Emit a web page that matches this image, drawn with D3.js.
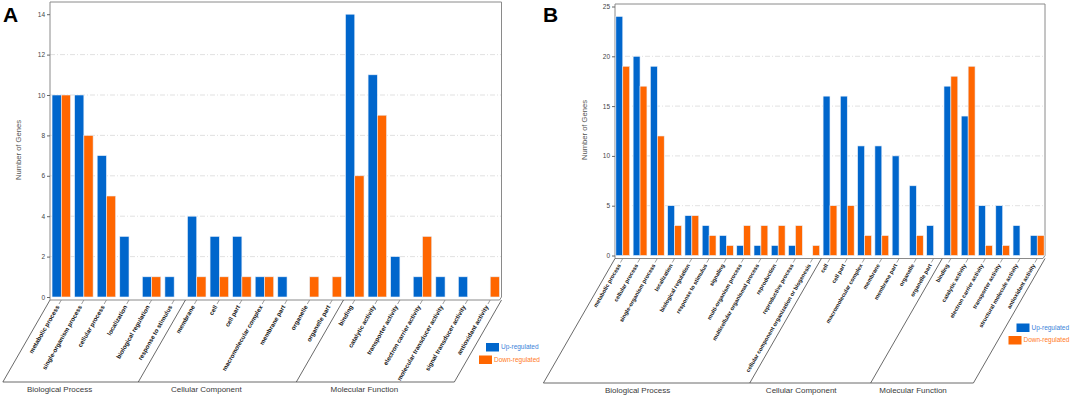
<!DOCTYPE html>
<html><head><meta charset="utf-8">
<script src="https://cdn.jsdelivr.net/npm/d3@7"></script>
<style>
html,body{margin:0;padding:0;background:#fff;}
svg{display:block;font-family:"Liberation Sans",Arial,sans-serif;}
</style></head>
<body><svg id="c" width="1072" height="396"></svg>
<script>
// ---------- DATA ----------
const catsA = ["metabolic process","single-organism process","cellular process","localization","biological regulation","response to stimulus",
  "membrane","cell","cell part","macromolecular complex","membrane part","organelle","organelle part",
  "binding","catalytic activity","transporter activity","electron carrier activity","molecular transducer activity","signal transducer activity","antioxidant activity"];
const upA   = [10,10,7,3,1,1, 4,3,3,1,1,0,0, 14,11,2,1,1,1,0];
const downA = [10,8,5,0,1,0, 1,1,1,1,0,1,1, 6,9,0,3,0,0,1];
const groupNamesA = ["Biological Process","Cellular Component","Molecular Function"];
const groupSizesA = [6,7,7];
const yTicksA = [0,2,4,6,8,10,12,14];

const catsB = ["metabolic process","cellular process","single-organism process","localization","biological regulation","response to stimulus","signaling","multi-organism process","multicellular organismal process","reproduction","reproductive process","cellular component organization or biogenesis",
  "cell","cell part","macromolecular complex","membrane","membrane part","organelle","organelle part",
  "binding","catalytic activity","electron carrier activity","transporter activity","structural molecule activity","antioxidant activity"];
const upB   = [24,20,19,5,4,3,2,1,1,1,1,0, 16,16,11,11,10,7,3, 17,14,5,5,3,2];
const downB = [19,17,12,3,4,2,1,3,3,3,3,1, 5,5,2,2,0,2,0, 18,19,1,1,0,2];
const groupNamesB = ["Biological Process","Cellular Component","Molecular Function"];
const groupSizesB = [12,7,6];
const yTicksB = [0,5,10,15,20,25];

const seriesNames = ["Up-regulated","Down-regulated"];
const seriesColors = ["#0066CC","#FF6600"];
const legendTextColors = ["#3a82d9","#ff7a26"];

// ---------- DRAW ----------
const svg = d3.select("#c");

function drawPanel(o){
  const g = svg.append("g");
  const x = d3.scaleBand().domain(o.cats).range([o.left,o.right]).paddingInner(o.pin).paddingOuter(o.pout);
  const xs = d3.scaleBand().domain([0,1]).range([0,x.bandwidth()]);
  const y = d3.scaleLinear().domain([0,o.ymax]).range([o.zero,o.ymaxY]);
  const axisY = o.zero + 3;

  // gridlines
  g.append("g").selectAll("line").data(o.ticks.filter(t=>t>0 && t<o.ymax)).join("line")
    .attr("x1",o.left).attr("x2",o.right).attr("y1",d=>y(d)).attr("y2",d=>y(d))
    .attr("stroke","#d9d9d9").attr("stroke-width",0.8).attr("stroke-dasharray","5,2,1,2");

  // frame
  g.append("path").attr("d",`M${o.left},${axisY}V${o.top}H${o.right}V${o.zero}L${o.right-2},${axisY}H${o.left}`)
    .attr("fill","none").attr("stroke","#8a8a8a").attr("stroke-width",1);

  // y axis
  const ya = g.append("g").attr("transform",`translate(${o.left},0)`)
    .call(d3.axisLeft(y).tickValues(o.ticks).tickSize(3).tickPadding(2));
  ya.select(".domain").remove();
  ya.selectAll("line").attr("stroke","#666");
  ya.selectAll("text").attr("font-size",6.5).attr("fill","#444").attr("font-family","Liberation Sans, Arial, sans-serif");

  // y title
  g.append("text").attr("transform",`translate(${o.titleX},${o.titleY}) rotate(-90)`)
    .attr("text-anchor","middle").attr("font-size",7.6).attr("fill","#555").text("Number of Genes");

  // bars
  const rows = o.cats.map((c,i)=>({c, v:[o.up[i],o.down[i]]}));
  const gg = g.append("g").selectAll("g").data(rows).join("g").attr("transform",d=>`translate(${x(d.c)},0)`);
  gg.selectAll("rect").data(d=>d.v.map((v,k)=>({v,k}))).join("rect")
    .filter(d=>d.v>0)
    .attr("x",d=>xs(d.k)).attr("width",xs.bandwidth())
    .attr("y",d=>y(d.v)).attr("height",d=>y(0)-y(d.v))
    .attr("fill",d=>seriesColors[d.k]).attr("stroke","#e8f0fa").attr("stroke-width",0.6);

  // x ticks and labels
  const dx = o.slope;
  g.append("g").selectAll("line").data(o.cats).join("line")
    .attr("x1",d=>x(d)+x.bandwidth()/2).attr("y1",axisY)
    .attr("x2",d=>x(d)+x.bandwidth()/2-2.3).attr("y2",axisY+4)
    .attr("stroke","#777").attr("stroke-width",0.7);
  g.append("g").selectAll("text").data(o.cats).join("text")
    .attr("transform",d=>`translate(${x(d)+x.bandwidth()/2-3},${axisY+6}) rotate(-60)`)
    .attr("text-anchor","end").attr("dominant-baseline","middle")
    .attr("font-size",o.labelSize).attr("font-weight","bold").attr("fill","#111").text(d=>d);

  // group brackets
  const step = x.step();
  let idx = 0;
  const bounds = [o.left];
  o.sizes.forEach((s,i)=>{ idx += s; bounds.push(i===o.sizes.length-1 ? o.right : x(o.cats[idx]) - step*o.pin/2); });
  const h = o.bottom - axisY;
  g.append("g").selectAll("line").data(bounds).join("line")
    .attr("x1",d=>d).attr("y1",axisY).attr("x2",d=>d-h*dx).attr("y2",o.bottom)
    .attr("stroke","#444").attr("stroke-width",0.8);
  g.append("line").attr("x1",bounds[0]-h*dx).attr("x2",bounds[bounds.length-1]-h*dx)
    .attr("y1",o.bottom).attr("y2",o.bottom).attr("stroke","#444").attr("stroke-width",0.8);
  g.append("g").selectAll("text").data(o.groups).join("text")
    .attr("x",(d,i)=>(bounds[i]+bounds[i+1])/2 - h*dx + o.grpShift).attr("y",o.bottom+10)
    .attr("text-anchor","middle").attr("font-size",8).attr("fill","#3a3a3a").style("fill","#3a3a3a").text(d=>d);

  // legend
  seriesNames.forEach((s,k)=>{
    const lx = o.legX[k], ly = o.legY[k];
    g.append("rect").attr("x",lx).attr("y",ly).attr("width",13).attr("height",8.5).attr("fill",seriesColors[k]);
    g.append("text").attr("x",lx+15).attr("y",ly+4.5).attr("dominant-baseline","middle")
      .attr("font-size",6.5).attr("fill",legendTextColors[k]).text(s);
  });

  // panel letter
  g.append("text").attr("x",o.letterX).attr("y",22).attr("font-size",21).attr("font-weight","bold")
    .attr("fill","#000").text(o.letter);
}

drawPanel({cats:catsA, up:upA, down:downA, groups:groupNamesA, sizes:groupSizesA, ticks:yTicksA, ymax:14,
  left:50, right:501.5, top:2, zero:297, ymaxY:14.2, pin:0.18, pout:0.09, labelSize:6.2, slope:0.575,
  bottom:382, grpShift:-11, titleX:21, titleY:150, legX:[486,479], legY:[343,355.5], letter:"A", letterX:3});

drawPanel({cats:catsB, up:upB, down:downB, groups:groupNamesB, sizes:groupSizesB, ticks:yTicksB, ymax:25,
  left:615, right:1045, top:4, zero:255.5, ymaxY:6.5, pin:0.2, pout:0.05, labelSize:5.6, slope:0.575,
  bottom:383, grpShift:-9, titleX:587, titleY:130, legX:[1016.5,1008.5], legY:[323.5,336], letter:"B", letterX:543});
</script></body></html>
